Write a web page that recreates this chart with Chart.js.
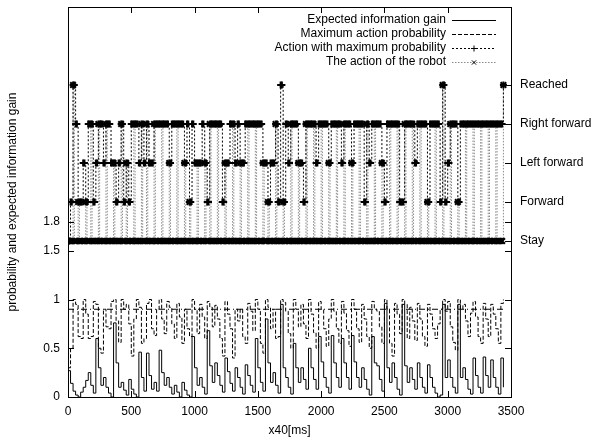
<!DOCTYPE html>
<html>
<head>
<meta charset="utf-8">
<script src="https://cdn.jsdelivr.net/npm/chart.js@4.4.1/dist/chart.umd.min.js"></script>
<style>
  html, body { margin: 0; padding: 0; background: #fff; }
</style>
</head>
<body>
<canvas id="chart" width="615" height="444"></canvas>
<script>
// axis ticks / labels
const xTickValues = [0, 500, 1000, 1500, 2000, 2500, 3000, 3500];
const leftTickValues = [0, 0.5, 1, 1.5, 1.8];
const actionLevels = [1.6, 2.0, 2.4, 2.8, 3.2];
const actionLabels = ["Stay", "Forward", "Left forward", "Right forward", "Reached"];
const gainStep = 20;   // x40[ms] units between gain / probability samples
const actionStep = 10; // x40[ms] units between action samples

// expected information gain, one value per sample
const infoGain = [
    0.27,0.14,0.06,0.02,0,0.05,0.1,0.17,0.25,0.12,
    0.04,0.6,0.3,0.12,0.2,0.1,0.04,0,0.76,0.35,
    0.1,0.15,0.07,0.02,0.18,0.08,0.03,0,0.46,0.2,
    0.06,0.45,0.22,0.08,0.15,0.06,0.48,0.25,0.12,0.2,
    0.1,0.03,0.12,0.05,0,0.15,0.07,0.02,0,0.62,
    0.3,0.12,0.2,0.1,0.03,0.68,0.32,0.15,0.35,0.22,
    0.12,0.05,0.4,0.26,0.14,0.06,0.3,0.2,0.1,0.03,
    0.33,0.22,0.12,0.05,0.6,0.3,0.15,0.06,0.8,0.35,
    0.15,0.25,0.12,0.04,0.95,0.3,0.2,0.1,0.03,0.55,
    0.3,0.15,0.3,0.18,0.08,0.5,0.3,0.18,0.08,0.62,
    0.36,0.2,0.1,0.04,0.63,0.35,0.2,0.1,0.6,0.35,
    0.2,0.08,0.63,0.36,0.2,0.1,0.3,0.18,0.08,0.02,
    0.62,0.35,0.32,0.18,0.06,0.96,0.3,0.15,0.35,0.2,
    0.08,0.02,0.95,0.32,0.15,0.3,0.18,0.08,0.35,0.2,
    0.1,0.04,0.33,0.2,0.1,0.04,0,0.02,0.95,0.2,
    0.38,0.2,0.1,0.04,0.95,0.2,0.3,0.18,0.08,0.03,
    0.4,0.22,0.1,0.04,0.41,0.22,0.1,0.38,0.2,0.1,
    0.03,0.4,0.1
];

// maximum action probability
const maxProb = [
    0.3,0.5,1.0,0.95,0.62,0.6,1.0,0.85,0.6,0.62,
    0.98,0.95,0.5,0.45,0.9,0.72,0.7,0.98,1.0,0.78,
    0.56,1.0,0.9,0.95,0.75,0.42,0.8,1.0,0.92,0.55,
    0.6,0.96,1.0,0.7,0.63,0.9,1.0,0.8,0.65,0.98,
    0.92,0.75,0.6,0.96,0.82,0.55,0.9,0.7,0.62,1.0,
    0.9,0.65,0.95,0.82,0.6,0.98,0.92,0.72,0.94,0.8,
    0.6,0.42,0.98,0.85,0.7,0.4,0.9,0.78,0.9,0.62,
    0.55,0.96,0.88,0.68,1.0,0.9,0.55,0.45,1.0,0.92,
    0.7,0.9,0.6,0.62,1.0,0.97,0.88,0.65,0.5,1.0,
    0.9,0.72,0.95,0.75,0.6,1.0,0.85,0.66,0.5,0.98,
    0.9,0.7,0.52,0.8,1.0,0.88,0.7,0.55,0.98,0.86,
    0.68,0.52,1.0,0.9,0.7,0.56,0.95,0.8,0.62,0.5,
    0.98,0.9,0.88,0.72,0.55,1.0,0.9,0.55,0.42,0.96,
    0.85,0.65,1.0,0.95,0.6,0.92,0.78,0.58,0.96,0.8,
    0.62,0.52,0.95,0.85,0.7,0.6,0.75,0.9,1.0,0.88,
    0.98,0.72,0.56,0.48,1.0,0.9,0.95,0.78,0.62,0.86,
    0.98,0.82,0.62,0.55,0.96,0.8,0.62,0.95,0.85,0.7,
    0.55,0.96,1.0
];

// action codes per sample: 0 Stay, 1 Forward, 2 Left forward, 3 Right forward, 4 Reached
const maxActionCodes = [
    "00114433111122113333", "11223333223333222211", "22331122113333332233",
    "22332222333333333333", "22333333333322331133", "22222233221133333333",
    "33112222333322332222", "33333333333333222211", "22223311441133223333",
    "33222211333333332233", "33333322333333332233", "33332233333333113322",
    "33333333221133333333", "33111133333333223333", "33331133333333114411",
    "22333333113333333333", "33333333333333333333", "33334"
].join("").split("").map(Number);

const robotActionCodes = [
    "00004000100000100030", "00003000003000002000", "00300020000030000030",
    "00300000300000300000", "20000030000020001000", "00200000200030000030",
    "00002000003000002000", "00300000300000200010", "00003000001000003000",
    "00200000300000300000", "30000020000030000030", "00002000003000003000",
    "00300000200000300000", "30000030000030000030", "00001000003000004000",
    "00300000100000300000", "30000030000030000030", "00004"
].join("").split("").map(Number);

// reference line of the probability
const thresholdX = [0, 3440];
const thresholdY = [0.9, 0.9];

const FONT = "'Liberation Sans', Arial, Helvetica, sans-serif";
const gainTimes = infoGain.map((_, i) => i * gainStep);
const actionTimes = maxActionCodes.map((_, i) => i * actionStep);
const toPoints = (xs, ys) => xs.map((x, i) => ({ x: x, y: ys[i] }));

const datasets = [
    {
        label: "Expected information gain",
        data: toPoints(gainTimes, infoGain),
        borderColor: "#000",
        borderWidth: 1,
        pointRadius: 0,
        stepped: true
    },
    {
        label: "Maximum action probability",
        data: toPoints(gainTimes, maxProb),
        borderColor: "#000",
        borderWidth: 1,
        borderDash: [4, 2],
        pointRadius: 0,
        stepped: true
    },
    {
        label: "Action with maximum probability",
        data: toPoints(actionTimes, maxActionCodes.map(c => actionLevels[c])),
        borderColor: "#000",
        borderWidth: 1,
        borderDash: [2, 2],
        pointStyle: "cross",
        pointRadius: 3.5,
        pointBorderWidth: 2,
        pointBorderColor: "#000",
        stepped: true
    },
    {
        label: "The action of the robot",
        data: toPoints(actionTimes, robotActionCodes.map(c => actionLevels[c])),
        borderColor: "#8a8a8a",
        borderWidth: 1,
        borderDash: [1.5, 1.5],
        pointStyle: "crossRot",
        pointRadius: 4,
        pointBorderWidth: 2,
        pointBorderColor: "#000",
        stepped: true
    },
    {
        label: "",
        data: toPoints(thresholdX, thresholdY),
        borderColor: "#000",
        borderWidth: 1,
        borderDash: [6, 3, 1, 3],
        pointRadius: 0
    }
];

// frame, inward tick marks and the gnuplot style key
const framePlugin = {
    id: "frame",
    afterDatasetsDraw(chart) {
        const { ctx, chartArea: a, scales } = chart;
        const tick = 6;
        ctx.save();
        ctx.strokeStyle = "#000";
        ctx.lineWidth = 1;
        ctx.setLineDash([]);
        ctx.strokeRect(Math.round(a.left) + 0.5, Math.round(a.top) + 0.5,
            Math.round(a.right - a.left), Math.round(a.bottom - a.top));

        ctx.beginPath();
        xTickValues.forEach(v => {
            const px = Math.round(scales.x.getPixelForValue(v)) + 0.5;
            ctx.moveTo(px, a.bottom); ctx.lineTo(px, a.bottom - tick);
            ctx.moveTo(px, a.top); ctx.lineTo(px, a.top + tick);
        });
        leftTickValues.forEach(v => {
            const py = Math.round(scales.y.getPixelForValue(v)) + 0.5;
            ctx.moveTo(a.left, py); ctx.lineTo(a.left + tick, py);
            ctx.moveTo(a.right, py); ctx.lineTo(a.right - tick, py);
        });
        actionLevels.forEach(v => {
            const py = Math.round(scales.y2.getPixelForValue(v)) + 0.5;
            ctx.moveTo(a.right, py); ctx.lineTo(a.right - tick, py);
        });
        ctx.stroke();

        // key
        const rows = [20, 34, 48, 62];
        const textRight = 446, lineFrom = 452, lineTo = 496;
        ctx.font = "12px " + FONT;
        ctx.fillStyle = "#000";
        ctx.textAlign = "right";
        ctx.textBaseline = "middle";
        for (let i = 0; i < 4; i++) {
            const ds = chart.data.datasets[i];
            const y = rows[i] + 0.5;
            ctx.fillText(ds.label, textRight, rows[i]);
            ctx.strokeStyle = ds.borderColor;
            ctx.lineWidth = 1;
            ctx.setLineDash(ds.borderDash || []);
            ctx.beginPath();
            ctx.moveTo(lineFrom, y);
            ctx.lineTo(lineTo, y);
            ctx.stroke();
            if (ds.pointRadius) {
                ctx.setLineDash([]);
                ctx.strokeStyle = ds.pointBorderColor;
                Chart.helpers.drawPoint(ctx, {
                    pointStyle: ds.pointStyle,
                    radius: 3,
                    borderWidth: 1,
                    rotation: 0
                }, (lineFrom + lineTo) / 2, y);
            }
        }
        ctx.restore();
    }
};

// no extra room for the end labels: the frame is placed by hand
const noPadding = s => {
    s.paddingTop = 0; s.paddingBottom = 0;
    s.paddingLeft = 0; s.paddingRight = 0;
};
const plainNumber = v => String(v);

new Chart(document.getElementById("chart"), {
    type: "line",
    data: { datasets: datasets },
    options: {
        responsive: false,
        animation: false,
        events: [],
        devicePixelRatio: 1,
        layout: { padding: { top: 7, left: 0, right: 0, bottom: 0 } },
        plugins: { legend: { display: false }, tooltip: { enabled: false } },
        scales: {
            x: {
                type: "linear",
                position: "bottom",
                min: 0,
                max: 3500,
                grid: { display: false, drawTicks: false },
                border: { display: false },
                afterBuildTicks: s => { s.ticks = xTickValues.map(v => ({ value: v })); },
                afterFit: s => { s.height = 47; noPadding(s); },
                ticks: { color: "#000", padding: 7, maxRotation: 0, font: { family: FONT, size: 12 }, callback: plainNumber },
                title: {
                    display: true,
                    text: "x40[ms]",
                    color: "#000",
                    padding: { top: 0, bottom: 6 },
                    font: { family: FONT, size: 12 }
                }
            },
            y: {
                type: "linear",
                position: "left",
                min: 0,
                max: 4,
                grid: { display: false, drawTicks: false },
                border: { display: false },
                afterBuildTicks: s => { s.ticks = leftTickValues.map(v => ({ value: v })); },
                afterFit: s => { s.width = 68; noPadding(s); },
                ticks: { color: "#000", padding: 8, font: { family: FONT, size: 12 }, callback: plainNumber },
                title: {
                    display: true,
                    text: "probability and expected information gain",
                    color: "#000",
                    padding: { top: 5, bottom: 0 },
                    font: { family: FONT, size: 12 }
                }
            },
            y2: {
                type: "linear",
                position: "right",
                min: 0,
                max: 4,
                grid: { display: false, drawTicks: false },
                border: { display: false },
                afterBuildTicks: s => { s.ticks = actionLevels.map(v => ({ value: v })); },
                afterFit: s => { s.width = 104; noPadding(s); },
                ticks: {
                    color: "#000",
                    padding: 9,
                    font: { family: FONT, size: 12 },
                    callback: v => actionLabels[actionLevels.indexOf(v)]
                }
            }
        }
    },
    plugins: [framePlugin]
});
</script>
</body>
</html>
